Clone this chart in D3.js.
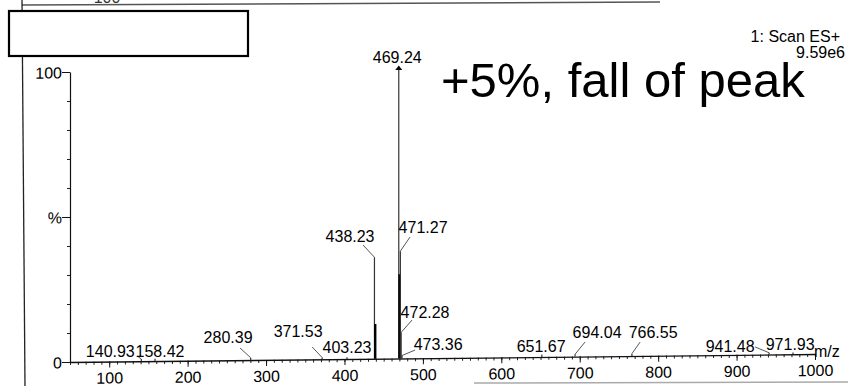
<!DOCTYPE html>
<html><head><meta charset="utf-8">
<script src="https://cdn.jsdelivr.net/npm/d3@7"></script>
<style>
html,body{margin:0;padding:0;background:#fff;}
svg{display:block;font-family:"Liberation Sans",Arial,Helvetica,sans-serif;}
</style></head>
<body><svg id="c" width="848" height="386"></svg>
<script>
// ---- data ----
const peakMz     = [140.93, 158.42, 280.39, 371.53, 403.23, 438.23, 439.2, 469.24, 470.25, 471.27, 472.28, 473.36, 651.67, 694.04, 766.55, 941.48, 971.93];
const peakHeight = [0.8,    0.8,    0.8,    0.6,    0.6,    35,     12,    100,    29,     37,     9,      1,      0.8,    0.8,    0.8,    0.6,    0.6];
const peakLabels = ["140.93","158.42","280.39","371.53","403.23","438.23","","469.24","","471.27","472.28","473.36","651.67","694.04","766.55","941.48","971.93"];
const xTicks = [100,200,300,400,500,600,700,800,900,1000];
const yTickValues = [0, 50, 100];
const yTickLabels = ["0", "%", "100"];
const scanTitle = "1: Scan ES+";
const scanMax = "9.59e6";
const note = "+5%, fall of peak";

// ---- layout (label offsets relative to peak tops) ----
const labelLayout = {
  "140.93":{dx:-31,dy:-2,lead:[-3,-2]},
  "158.42":{dx:5,dy:-2},
  "280.39":{dx:-22.6,dy:-14.7,lead:[-10.6,-9.7]},
  "371.53":{dx:-24,dy:-20.6,lead:[-10,-10.6]},
  "403.23":{dx:0,dy:-4.3},
  "438.23":{dx:-24.4,dy:-15.2,lead:[-11.4,-12.2]},
  "469.24":{dx:-1.5,dy:-5.5,arrow:true},
  "471.27":{dx:22.7,dy:-18.2,lead:[9.7,-14.2]},
  "472.28":{dx:23.9,dy:-14.3,lead:[10.9,-12.3]},
  "473.36":{dx:36.1,dy:-5.5,lead:[13.1,-5.5]},
  "651.67":{dx:-0.7,dy:-2.6},
  "694.04":{dx:22,dy:-16.3,lead:[10,-12.3]},
  "766.55":{dx:21.2,dy:-15.6,lead:[8.2,-11.6]},
  "941.48":{dx:-39,dy:-0.8,lead:[-14,-5.8]},
  "971.93":{dx:-2.8,dy:-2.5}
};

const svg = d3.select("#c");
const X0 = 70, XE = 815, Y0 = 362, YT = 72;
const k = 8/745;
const theta = Math.atan(k)*180/Math.PI;

const x = d3.scaleLinear().domain([50,1000]).range([X0, XE]);
const y = d3.scaleLinear().domain([0,100]).range([Y0, YT]);
const skewShift = px => -(px - X0)*k;

// scan decorations
svg.append("rect").attr("width",848).attr("height",386).attr("fill","#fff");
svg.append("line").attr("x1",22).attr("y1",5).attr("x2",660).attr("y2",2).attr("stroke","#555").attr("stroke-width",1.5);
svg.append("line").attr("x1",22).attr("y1",0).attr("x2",25).attr("y2",386).attr("stroke","#222").attr("stroke-width",1.3);
svg.append("line").attr("x1",474).attr("y1",383).attr("x2",848).attr("y2",382).attr("stroke","#aaa").attr("stroke-width",1.5);
svg.append("text").attr("x",107).attr("y",3).attr("text-anchor","middle").attr("font-size",16).attr("fill","#333").text("100");
svg.append("rect").attr("x",9).attr("y",11).attr("width",239).attr("height",45)
  .attr("fill","#fff").attr("stroke","#000").attr("stroke-width",2.2);

// skewed plot group
const g = svg.append("g").attr("transform",`translate(${X0},0) skewY(${-theta}) translate(${-X0},0)`);

// x axis
const xMinor = d3.range(50, 1001, 10);
g.append("g").attr("transform",`translate(0,${Y0})`)
  .call(d3.axisBottom(x).tickValues(xMinor).tickSize(3).tickFormat(""))
  .call(a=>a.select(".domain").remove())
  .call(a=>a.selectAll("line").attr("stroke","#222"));
const xa = g.append("g").attr("transform",`translate(0,${Y0})`)
  .call(d3.axisBottom(x).tickValues(xTicks).tickSize(6).tickSizeOuter(0).tickPadding(0).tickFormat(d3.format("d")));
xa.select(".domain").attr("stroke","#111").attr("stroke-width",1.3);
xa.selectAll("line").attr("stroke","#111");
xa.selectAll("text").attr("font-size",16).attr("font-family","Liberation Sans, Arial, sans-serif").attr("fill","#000").attr("dy",0).attr("y",22);

// y axis
const yMinor = d3.range(0,101,10);
g.append("g").attr("transform",`translate(${X0},0)`)
  .call(d3.axisLeft(y).tickValues(yMinor).tickSize(3).tickFormat(""))
  .call(a=>a.select(".domain").remove())
  .call(a=>a.selectAll("line").attr("stroke","#222"));
const ya = g.append("g").attr("transform",`translate(${X0},0)`)
  .call(d3.axisLeft(y).tickValues(yTickValues).tickSize(8).tickSizeOuter(0).tickPadding(0)
        .tickFormat((d,i)=>yTickLabels[i]));
ya.select(".domain").attr("stroke","#111").attr("stroke-width",1.2);
ya.selectAll("line").attr("stroke","#111");
ya.selectAll("text").attr("font-size",16).attr("font-family","Liberation Sans, Arial, sans-serif").attr("fill","#000").attr("dy","0.36em");

// peaks
const peaks = peakMz.map((m,i)=>({m, h:peakHeight[i], label:peakLabels[i]}));
g.append("g").selectAll("line").data(peaks).join("line")
  .attr("x1",d=>x(d.m)).attr("x2",d=>x(d.m))
  .attr("y1",y(0)).attr("y2",d=>y(d.h))
  .attr("stroke",d=>d.label==="" ? "#000" : "#333")
  .attr("stroke-width",d=>d.label==="" ? 2.4 : 1.2);

// labels (screen coords)
const lg = svg.append("g");
peaks.filter(d=>d.label!=="").forEach(d=>{
  const L = labelLayout[d.label];
  const px = x(d.m);
  const top = y(d.h) + skewShift(px);
  lg.append("text").attr("x",px+L.dx).attr("y",top+L.dy).attr("text-anchor","middle")
    .attr("font-size",16).attr("fill","#000").text(d.label);
  if (L.lead) {
    lg.append("line").attr("x1",px+L.lead[0]).attr("y1",top+L.lead[1]).attr("x2",px).attr("y2",top)
      .attr("stroke","#444").attr("stroke-width",0.9);
  }
  if (L.arrow) {
    lg.append("path").attr("d",`M${px-3.5},${top+1.5} L${px},${top-3} L${px+3.5},${top+1.5} Z`).attr("fill","#000");
  }
});

// texts
svg.append("text").attr("x",814).attr("y",357).attr("font-size",16).attr("fill","#000").text("m/z");
svg.append("text").attr("x",840).attr("y",42).attr("text-anchor","end").attr("font-size",16).attr("fill","#000").text(scanTitle);
svg.append("text").attr("x",845).attr("y",58).attr("text-anchor","end").attr("font-size",16).attr("fill","#000").text(scanMax);
svg.append("text").attr("x",441).attr("y",97).attr("font-size",49).attr("fill","#000").text(note);
</script></body></html>
